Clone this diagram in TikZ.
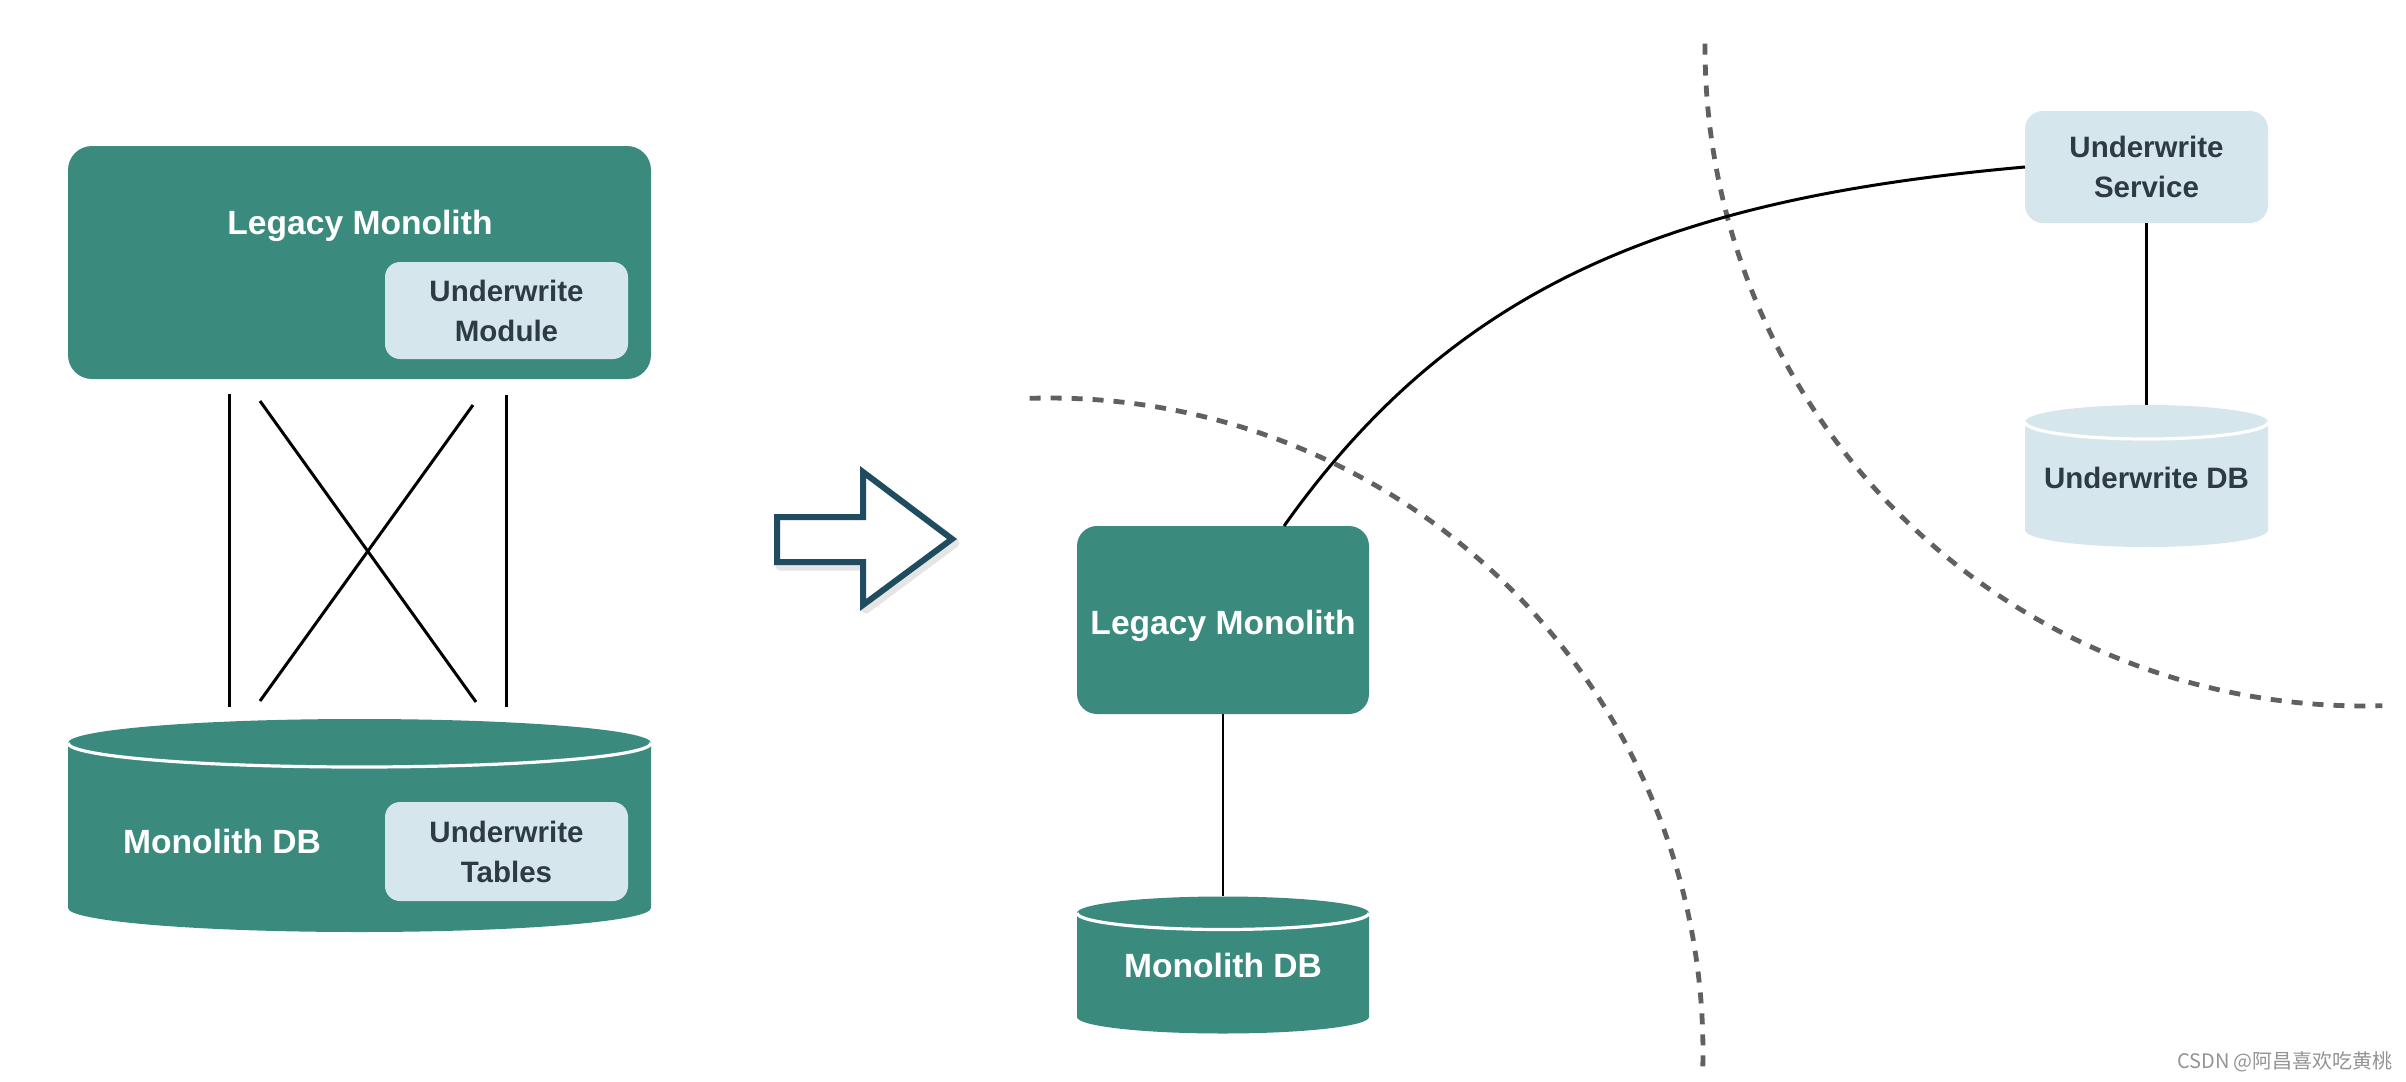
\documentclass[tikz,border=0pt]{standalone}
\usepackage{fontspec}
\setmainfont{Liberation Sans}
\newfontfamily\cjk{Noto Sans CJK SC}
\usetikzlibrary{calc}
\definecolor{tealc}{HTML}{3B8A7E}
\definecolor{lblue}{HTML}{D5E7ED}
\definecolor{dtext}{HTML}{2E3A44}
\definecolor{dashc}{HTML}{606060}
\definecolor{arrc}{HTML}{1F4C5E}
\newcommand\mycyl[6]{%
  \fill[#6] (#1-#2,#3) -- (#1-#2,#4) arc[start angle=180,end angle=0,x radius=#2,y radius=#5]
    -- (#1+#2,#3) arc[start angle=0,end angle=-180,x radius=#2,y radius=#5] -- cycle;
  \draw[white,line width=1.6pt] (#1-#2,#3) arc[start angle=180,end angle=0,x radius=#2,y radius=#5];
}
\begin{document}
\begin{tikzpicture}[x=0.5pt,y=-0.5pt,
  tealbox/.style={fill=tealc,draw=none,rounded corners=#1,inner sep=0pt,outer sep=0pt},
  tealbox/.default=10pt,
  bluebox/.style={fill=lblue,draw=none,rounded corners=#1,inner sep=0pt,outer sep=0pt,
    text=dtext,align=center,font=\bfseries\fontsize{14.75pt}{20pt}\selectfont},
  bluebox/.default=8pt,
  wtext/.style={text=white,inner sep=0pt,font=\bfseries\fontsize{16.8pt}{20pt}\selectfont},
  dtxt/.style={text=dtext,inner sep=0pt,font=\bfseries\fontsize{14.75pt}{20pt}\selectfont},
  ghost/.style={inner sep=0pt,outer sep=0pt,draw=none},
  conn/.style={black,line width=1.5pt},
  conn2/.style={black,line width=1.4pt},
  bound/.style={dashc,line width=2.4pt,dash pattern=on 5.5pt off 5pt}
]
\useasboundingbox[fill=white] (0,0) rectangle (2406,1082);

% ---------------- left panel ----------------
\node[tealbox=12pt,minimum width=291.5pt,minimum height=116.5pt] (lm) at (359.5,262.5) {};
\node[wtext] (lmt) at (360,226) {Legacy Monolith};
\node[bluebox=7.5pt,minimum width=121.5pt,minimum height=48.5pt] (um) at (506.5,310.5) {Underwrite\\Module};

\mycyl{359.5}{291.5}{743}{908}{24}{tealc}
\node[ghost,minimum width=291.5pt,minimum height=106.5pt] (mdb) at (359.5,825.5) {};
\node[wtext] (mdbt) at (222,841) {Monolith DB};
\node[bluebox=7.5pt,minimum width=121.5pt,minimum height=49.5pt] (ut) at (506.5,851.5) {Underwrite\\Tables};

\draw[conn] ($(lm.south west)+(161,15)$) -- ($(mdb.north west)+(161,-12)$);
\draw[conn] ($(lm.south west)+(438,16)$) -- ($(mdb.north west)+(438,-12)$);
\draw[conn] ($(lm.south west)+(192,22)$) -- ($(mdb.north west)+(408,-17)$);
\draw[conn] ($(lm.south west)+(405,26)$) -- ($(mdb.north west)+(192,-18)$);

% ---------------- arrow ----------------
\draw[black,opacity=0.10,line width=4.5pt,line join=round]
  (780,521) -- (866,521) -- (866,476) -- (955,543) -- (866,609) -- (866,566) -- (780,566) -- cycle;
\draw[arrc,line width=3pt,fill=white]
  (777,517) -- (863,517) -- (863,472) -- (952,539) -- (863,605) -- (863,562) -- (777,562) -- cycle;

% ---------------- boundaries ----------------
\draw[bound] (1049,1052) ++(-91.7:654) arc[start angle=-91.7,end angle=1.3,radius=654];
\draw[bound] (2364,47) ++(180.3:659) arc[start angle=180.3,end angle=88.4,radius=659];

% ---------------- right panel ----------------
\node[tealbox=10pt,minimum width=146pt,minimum height=94pt] (lm2) at (1223,620) {};
\node[wtext] (lm2t) at (1223,626) {Legacy Monolith};

\mycyl{1223}{146}{913}{1017}{16.5}{tealc}
\node[ghost,minimum width=146pt,minimum height=68.5pt] (mdb2) at (1223,964.5) {};
\node[wtext] (mdb2t) at (1223,965) {Monolith DB};

\node[bluebox=9pt,minimum width=121.5pt,minimum height=56pt] (us) at (2146.5,167) {Underwrite\\Service};

\mycyl{2146.5}{121.5}{422}{530}{17}{lblue}
\node[ghost,minimum width=121.5pt,minimum height=71pt] (udb) at (2146.5,476) {};
\node[dtxt] (udbt) at (2146.5,478) {Underwrite DB};

\draw[conn2] (lm2.south) -- (mdb2.north);
\draw[conn2] (us.south) -- (udb.north);
\draw[conn] (lm2.57.8) .. controls (1457,282) and (1675,198) .. (us.west);

% ---------------- watermark ----------------
\node[text=black!42,inner sep=0pt,font=\cjk\fontsize{10pt}{12pt}\selectfont] (wm) at (2285,1062) {CSDN @阿昌喜欢吃黄桃};
\end{tikzpicture}
\end{document}
